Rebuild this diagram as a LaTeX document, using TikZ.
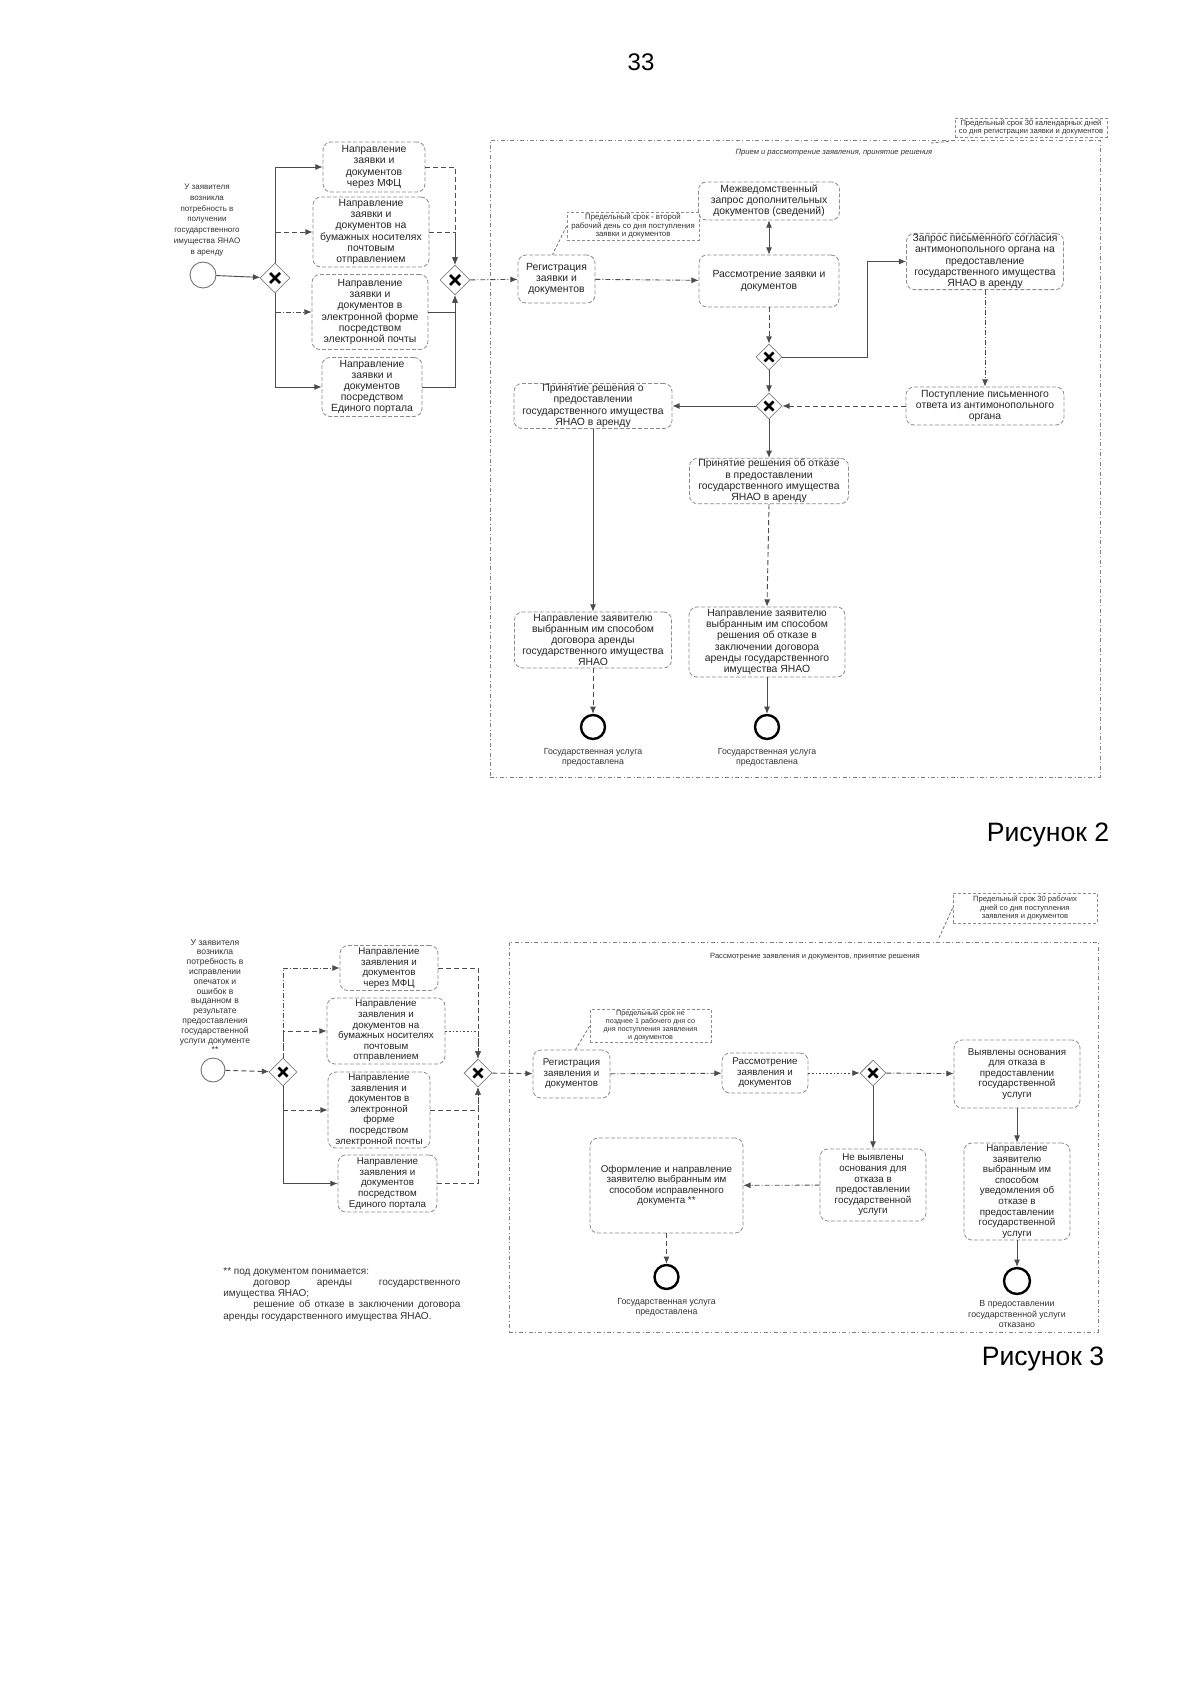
\documentclass[tikz,border=0pt]{standalone}
\usepackage{fontspec}
\setmainfont{Liberation Sans}
\usetikzlibrary{shapes.geometric,arrows.meta,calc}
\newcommand\dgA{\fontsize{5.2pt}{5.6pt}\selectfont}
\newcommand\dgB{\fontsize{4.9pt}{5.3pt}\selectfont}
\newcommand\dgS{\fontsize{4pt}{5.35pt}\selectfont}
\newcommand\dgT{\fontsize{4.3pt}{4.9pt}\selectfont}
\newcommand\dgN{\fontsize{3.8pt}{4.2pt}\selectfont}
\newcommand\dgE{\fontsize{4.4pt}{5pt}\selectfont}
\newcommand\dgF{\fontsize{5pt}{5.6pt}\selectfont}
\tikzset{
  sz/.style 2 args={minimum width=#1pt, minimum height=#2pt},
  bx/.style={draw=black!45, dash pattern=on 2pt off 1pt, rounded corners=4pt, align=center,
    inner sep=0.5pt, text=black!85, font=\dgA, line width=0.4pt},
  bxb/.style={bx, font=\dgB},
  gw/.style={diamond, aspect=1, draw=black!50, line width=0.4pt, minimum size=15pt, inner sep=0pt,
    path picture={\draw[line width=1.3pt, black]
      ([shift={(-5,-5)}]path picture bounding box.center) -- ([shift={(5,5)}]path picture bounding box.center)
      ([shift={(-5,5)}]path picture bounding box.center) -- ([shift={(5,-5)}]path picture bounding box.center);}},
  gws/.style={diamond, aspect=1, draw=black!50, line width=0.4pt, minimum size=13pt, inner sep=0pt,
    path picture={\draw[line width=1.3pt, black]
      ([shift={(-4.5,-4.5)}]path picture bounding box.center) -- ([shift={(4.5,4.5)}]path picture bounding box.center)
      ([shift={(-4.5,4.5)}]path picture bounding box.center) -- ([shift={(4.5,-4.5)}]path picture bounding box.center);}},
  st/.style={circle, draw=black!55, line width=0.45pt, minimum size=13pt, inner sep=0pt},
  en/.style={circle, draw=black, line width=1.2pt, minimum size=12pt, inner sep=0pt},
  flow/.style={draw=black!70, line width=0.45pt, -{Latex[length=3.6pt,width=3pt]}},
  flowdash/.style={flow, dash pattern=on 2.5pt off 1.5pt},
  flowdd/.style={flow, dash pattern=on 2.5pt off 1pt on 0.5pt off 1pt},
  flowdot/.style={flow, dash pattern=on 0.8pt off 1pt},
  flowboth/.style={draw=black!70, line width=0.45pt, {Latex[length=3.6pt,width=3pt]}-{Latex[length=3.6pt,width=3pt]}},
  assoc/.style={draw=black!55, line width=0.4pt, dash pattern=on 1.5pt off 1pt},
  note/.style={draw=black!45, dash pattern=on 1.5pt off 1pt, align=center, inner sep=0.5pt, font=\dgN, text=black!80},
  pool/.style={draw=black!50, line width=0.4pt, dash pattern=on 2pt off 1.2pt on 0.5pt off 1.2pt},
  lbl/.style={align=center, inner sep=0pt, text=black!80},
  title/.style={inner sep=0pt, text=black}
}
\begin{document}
\begin{tikzpicture}[x=0.5pt,y=-0.5pt]
\useasboundingbox (0,0) rectangle (1200,1696);
\fill[white] (0,0) rectangle (1200,1696);

% page header
\node[title, font=\fontsize{12pt}{14pt}\selectfont] (pg) at (641,62) {33};

% ================= Diagram 1 =================
\node[pool, sz={305}{318.5}] (pool1) at (795,458.5) {};
\node[lbl, font=\dgN\itshape] (pool1l) at (834,153) {Прием и рассмотрение заявления, принятие решения};
\node[note, sz={76}{9.5}] (a1) at (1031,127.5) {Предельный срок 30 календарных дней\\со дня регистрации заявки и документов};
\coordinate (a1e) at (931,143);
\draw[assoc] ([shift={(-6,4)}]a1.south west) -- (a1e);

\node[st] (s1) at (203,275) {};
\node[lbl, font=\dgS] (s1l) at (207,220) {У заявителя\\возникла\\потребность в\\получении\\государственного\\имущества ЯНАО\\в аренду};
\node[gw] (g1) at (275,278) {};
\node[bx, sz={51}{25}] (b1) at (374,167) {Направление\\заявки и\\документов\\через МФЦ};
\node[bx, sz={58}{35}] (b2) at (371,232) {Направление\\заявки и\\документов на\\бумажных носителях\\почтовым\\отправлением};
\node[bx, sz={58}{37.5}] (b3) at (370,312) {Направление\\заявки и\\документов в\\электронной форме\\посредством\\электронной почты};
\node[bx, sz={50}{29.5}] (b4) at (372,387) {Направление\\заявки и\\документов\\посредством\\Единого портала};
\node[gw] (g2) at (455,280) {};

\draw[flow] (s1) -- (g1);
\draw[flow] (g1.north) |- (b1.west);
\draw[flowdash] (g1.north) |- (b2.west);
\draw[flowdd] (g1.south) |- (b3.west);
\draw[flow] (g1.south) |- (b4.west);
\draw[flowdash] (b1.east) -| (g2.north);
\draw[flowdash] (b2.east) -| (g2.north);
\draw[flow] (b3.east) -| (g2.south);
\draw[flow] (b4.east) -| (g2.south);

\node[bx, sz={38.5}{24}] (reg) at (556.5,279) {Регистрация\\заявки и\\документов};
\node[note, sz={66}{14}, font=\fontsize{3.9pt}{4.2pt}\selectfont] (a2) at (633,226) {Предельный срок - второй\\рабочий день со дня поступления\\заявки и документов};
\draw[assoc] (a2.west) -- ([xshift=-2pt]reg.north);
\draw[flowdd] (g2) -- (reg);

\node[bx, sz={70}{26}] (ras) at (769,281) {Рассмотрение заявки и\\документов};
\node[bx, sz={70.5}{19}] (mzh) at (769,201) {Межведомственный\\запрос дополнительных\\документов (сведений)};
\draw[flowdd] (reg) -- (ras);
\draw[flowboth] (ras.north) -- (mzh.south);

\node[gws] (g3) at (769,357) {};
\draw[flowdash] (ras) -- (g3);
\node[bx, sz={78.5}{26.5}] (zap) at (985,261.5) {Запрос письменного согласия\\антимонопольного органа на\\предоставление\\государственного имущества\\ЯНАО в аренду};
\coordinate (k1) at (867,357);
\draw[flow] (g3.east) -- (k1) |- (zap.west);

\node[bx, sz={79}{19}] (post) at (985,406) {Поступление письменного\\ответа из антимонопольного\\органа};
\draw[flowdd] (zap) -- (post);

\node[gws] (g4) at (769,406) {};
\draw[flow] (g3) -- (g4);
\draw[flowdash] (post) -- (g4);

\node[bx, sz={79}{22.5}] (prin) at (593,406) {Принятие решения о\\предоставлении\\государственного имущества\\ЯНАО в аренду};
\draw[flow] (g4) -- (prin);

\node[bx, sz={79.5}{21}] (otk) at (769,481) {Принятие решения об отказе\\в предоставлении\\государственного имущества\\ЯНАО в аренду};
\draw[flow] (g4) -- (otk);

\node[bx, sz={78.5}{28}] (nap1) at (593,640) {Направление заявителю\\выбранным им способом\\договора аренды\\государственного имущества\\ЯНАО};
\node[bx, sz={78}{35}] (nap2) at (767,642) {Направление заявителю\\выбранным им способом\\решения об отказе в\\заключении договора\\аренды государственного\\имущества ЯНАО};
\draw[flow] (prin) -- (nap1);
\draw[flowdash] (otk.south) -- (nap2.north);

\node[en] (e1) at (593,727) {};
\node[en] (e2) at (767,727) {};
\draw[flowdash] (nap1) -- (e1);
\draw[flow] (nap2) -- (e2);
\node[lbl, font=\dgE] (e1l) at (593,757) {Государственная услуга\\предоставлена};
\node[lbl, font=\dgE] (e2l) at (767,757) {Государственная услуга\\предоставлена};

\node[title, font=\fontsize{13.3pt}{15pt}\selectfont] (fig2) at (1048,835) {Рисунок 2};

% ================= Diagram 2 =================
\node[pool, sz={294.5}{195}] (pool2) at (803.5,1137) {};
\node[lbl, font=\dgN] (pool2l) at (815,957) {Рассмотрение заявления и документов, принятие решения};
\node[note, sz={72}{15}] (a3) at (1025,908) {Предельный срок 30 рабочих\\дней со дня поступления\\заявления и документов};
\coordinate (a3e) at (938,940);
\draw[assoc] (a3.west) -- (a3e);

\node[st, minimum size=12pt] (s2) at (213,1070) {};
\node[lbl, font=\dgT] (s2l) at (215,996) {У заявителя\\возникла\\потребность в\\исправлении\\опечаток и\\ошибок в\\выданном в\\результате\\предоставления\\государственной\\услуги документе\\**};
\node[gws, minimum size=14pt] (g5) at (283,1072) {};
\node[bxb, sz={49}{22.5}] (c1) at (389,968) {Направление\\заявления и\\документов\\через МФЦ};
\node[bxb, sz={59}{33}] (c2) at (386,1031) {Направление\\заявления и\\документов на\\бумажных носителях\\почтовым\\отправлением};
\node[bxb, sz={51}{38}] (c3) at (379,1110) {Направление\\заявления и\\документов в\\электронной\\форме\\посредством\\электронной почты};
\node[bxb, sz={49.5}{28.5}] (c4) at (387.5,1183.5) {Направление\\заявления и\\документов\\посредством\\Единого портала};
\node[gws, minimum size=14pt] (g6) at (478,1073) {};

\draw[flowdash] (s2) -- (g5);
\draw[flowdd] (g5.north) |- (c1.west);
\draw[flowdash] (g5.north) |- (c2.west);
\draw[flowdash] (g5.south) |- (c3.west);
\draw[flow] (g5.south) |- (c4.west);
\draw[flowdash] (c1.east) -| (g6.north);
\draw[flowdot] (c2.east) -| (g6.north);
\draw[flowdash] (c3.east) -| (g6.south);
\draw[flowdash] (c4.east) -| (g6.south);

\node[bxb, sz={38.5}{24}] (reg2) at (571.5,1074) {Регистрация\\заявления и\\документов};
\node[note, sz={60.5}{16}, font=\fontsize{3.6pt}{4pt}\selectfont] (a4) at (650.5,1026) {Предельный срок не\\позднее 1 рабочего дня со\\дня поступления заявления\\и документов};
\draw[assoc] (a4.west) -- ([xshift=2pt]reg2.north);
\draw[flowdash] (g6) -- (reg2);

\node[bxb, sz={43}{20}] (ras2) at (765,1073) {Рассмотрение\\заявления и\\документов};
\draw[flowdd] (reg2) -- (ras2);
\node[gws] (g7) at (873,1073) {};
\draw[flowdot] (ras2) -- (g7);

\node[bxb, sz={63}{34}] (vyy) at (1017,1074) {Выявлены основания\\для отказа в\\предоставлении\\государственной\\услуги};
\draw[flowdd] (g7) -- (vyy);
\node[bxb, sz={53}{48.5}] (nav) at (1017,1191.5) {Направление\\заявителю\\выбранным им\\способом\\уведомления об\\отказе в\\предоставлении\\государственной\\услуги};
\draw[flow] (vyy) -- (nav);

\node[bxb, sz={53}{36}] (nev) at (873,1185) {Не выявлены\\основания для\\отказа в\\предоставлении\\государственной\\услуги};
\draw[flow] (g7) -- (nev);
\node[bxb, sz={76.5}{47.5}] (ofo) at (666.5,1185.5) {Оформление и направление\\заявителю выбранным им\\способом исправленного\\документа **};
\draw[flowdd] (nev) -- (ofo);

\node[en] (e3) at (666.5,1277) {};
\node[en, minimum size=13pt] (e4) at (1017,1281) {};
\draw[flowdash] (ofo) -- (e3);
\draw[flow] (nav) -- (e4);
\node[lbl, font=\dgE] (e3l) at (666.5,1307) {Государственная услуга\\предоставлена};
\node[lbl, font=\dgE] (e4l) at (1017,1314) {В предоставлении\\государственной услуги\\отказано};

\node[anchor=north west, text width=118.5pt, align=justify, font=\dgF, inner sep=0pt, text=black!80] (fn) at (223,1267)
 {** под документом понимается:\\\hspace*{15pt}договор аренды государственного\linebreak имущества ЯНАО;\\\hspace*{15pt}решение об отказе в заключении договора\linebreak аренды государственного имущества ЯНАО.};

\node[title, font=\fontsize{13.3pt}{15pt}\selectfont] (fig3) at (1043,1359) {Рисунок 3};
\end{tikzpicture}
\end{document}
